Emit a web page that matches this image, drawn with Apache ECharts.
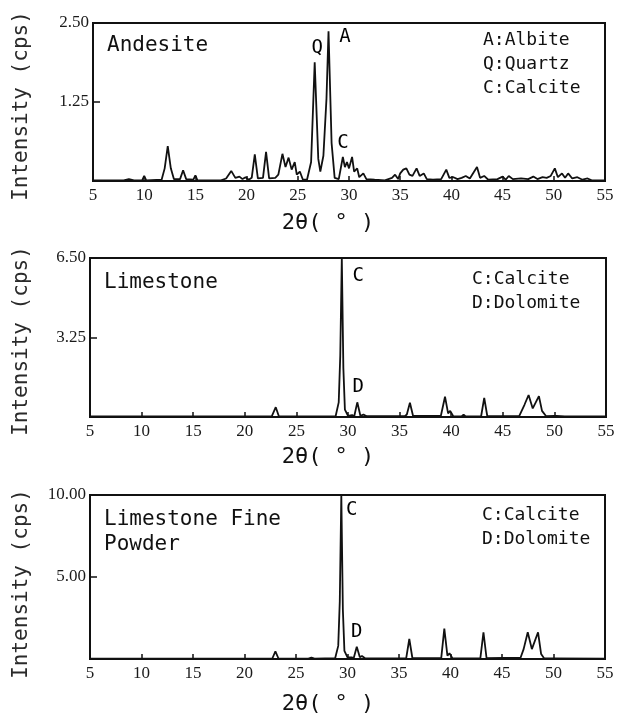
<!DOCTYPE html>
<html>
<head>
<meta charset="utf-8">
<script src="https://cdn.jsdelivr.net/npm/echarts@6/dist/echarts.min.js"></script>
<style>
html,body{margin:0;padding:0;background:#fff;}
#main{width:620px;height:717px;}
</style>
</head>
<body>
<div id="main"></div>
<script>
// ---------- data ----------
const xTicks = [5, 55, 5]; // min, max, interval of 2θ axes

const andesiteX = [5.0,8.0,8.5,9.0,9.8,10.0,10.2,11.7,12.0,12.3,12.6,12.9,13.5,13.8,14.1,14.8,15.0,15.2,17.5,18.0,18.5,18.9,19.3,19.6,19.9,20.2,20.5,20.8,21.1,21.6,21.9,22.2,22.8,23.1,23.5,23.8,24.1,24.4,24.7,24.9,25.2,25.5,25.9,26.3,26.65,27.0,27.2,27.5,27.8,28.0,28.3,28.6,29.0,29.4,29.6,29.8,30.0,30.3,30.5,30.8,31.0,31.4,31.7,32.5,33.5,34.2,34.5,34.8,35.0,35.3,35.6,35.9,36.2,36.6,36.9,37.3,37.6,38.2,39.0,39.5,39.8,40.2,40.6,41.0,41.4,41.8,42.5,42.8,43.2,43.6,44.5,45.0,45.3,45.6,46.0,46.8,47.5,48.0,48.4,48.9,49.3,49.7,50.1,50.4,50.8,51.1,51.4,51.8,52.3,52.8,53.3,53.7,55.0];
const andesiteY = [0.01,0.01,0.03,0.01,0.01,0.08,0.01,0.02,0.20,0.55,0.20,0.03,0.03,0.17,0.03,0.02,0.09,0.01,0.01,0.04,0.16,0.05,0.07,0.03,0.06,0.02,0.05,0.42,0.04,0.05,0.46,0.04,0.05,0.10,0.43,0.22,0.37,0.18,0.30,0.10,0.15,0.02,0.02,0.30,1.88,0.35,0.15,0.40,1.30,2.37,0.60,0.05,0.03,0.38,0.22,0.30,0.20,0.38,0.15,0.20,0.06,0.12,0.03,0.02,0.01,0.05,0.10,0.03,0.12,0.18,0.20,0.10,0.08,0.20,0.08,0.12,0.03,0.02,0.03,0.18,0.05,0.06,0.03,0.05,0.08,0.04,0.22,0.05,0.08,0.02,0.03,0.07,0.02,0.08,0.03,0.04,0.03,0.07,0.03,0.06,0.05,0.08,0.20,0.06,0.12,0.05,0.12,0.04,0.06,0.02,0.04,0.01,0.01];

const limestoneX = [5.0,22.6,23.0,23.3,26.0,28.8,29.1,29.25,29.4,29.55,29.7,30.0,30.4,30.6,30.9,31.2,31.5,31.8,35.5,35.7,36.0,36.3,39.0,39.4,39.7,39.9,40.2,41.0,41.2,41.4,42.9,43.2,43.5,46.6,47.1,47.5,47.9,48.5,48.8,49.2,50.0,50.2,51.0,55.0];
const limestoneY = [0.02,0.02,0.40,0.03,0.02,0.03,0.60,2.50,6.50,2.00,0.30,0.05,0.08,0.02,0.60,0.05,0.10,0.03,0.03,0.10,0.58,0.05,0.05,0.83,0.15,0.25,0.03,0.02,0.10,0.02,0.03,0.78,0.03,0.05,0.50,0.90,0.35,0.85,0.25,0.03,0.05,0.05,0.02,0.02];

const fineX = [5.0,22.7,23.0,23.3,26.2,26.5,26.8,28.8,29.1,29.25,29.4,29.55,29.7,30.0,30.4,30.6,30.9,31.2,31.4,31.7,35.7,36.0,36.3,39.1,39.4,39.7,39.9,40.2,42.9,43.2,43.5,46.8,47.1,47.5,47.9,48.5,48.8,49.1,50.0,55.0];
const fineY = [0.02,0.03,0.47,0.03,0.02,0.08,0.02,0.05,0.80,3.50,10.00,3.00,0.50,0.10,0.10,0.05,0.75,0.10,0.18,0.04,0.05,1.22,0.06,0.05,1.85,0.20,0.35,0.04,0.05,1.63,0.05,0.08,0.60,1.63,0.60,1.63,0.30,0.03,0.04,0.02];

const yMax = [2.5, 6.5, 10.0];
const sampleNames = ['Andesite', 'Limestone', 'Limestone Fine\nPowder'];
const legends = [['A:Albite','Q:Quartz','C:Calcite'], ['C:Calcite','D:Dolomite'], ['C:Calcite','D:Dolomite']];
const peakLabels = [
  [['Q',26.9,2.1],['A',29.6,2.28],['C',29.4,0.6]],
  [['C',31.0,5.76],['D',31.0,1.23]],
  [['C',30.4,9.1],['D',30.9,1.65]]
];
const yTitle = 'Intensity (cps)';
const xTitle = '2θ( ° )';

// ---------- layout ----------
const grids = [
  {left:93, right:15, top:23, height:158},
  {left:90, right:14, top:258, height:159},
  {left:90, right:15, top:495, height:164}
];
const xTitleY = [223, 457, 704];
const yTitleY = [106, 341, 584];
const nameY = [45, 282, 519];
const legendPos = [[483,40],[472,279],[482,515]];

const mono = 'DejaVu Sans Mono';
const ink = '#111';

const series = [];
const xAxes = [], yAxes = [];
const graphics = [];
const datasets = [[andesiteX,andesiteY],[limestoneX,limestoneY],[fineX,fineY]];

for (let i = 0; i < 3; i++) {
  xAxes.push({
    gridIndex:i, type:'value', min:xTicks[0], max:xTicks[1], interval:xTicks[2],
    axisLine:{show:true, lineStyle:{color:ink, width:2}},
    axisTick:{show:true, inside:true, length:5, lineStyle:{color:ink, width:1.5}},
    splitLine:{show:false},
    axisLabel:{margin:6, fontFamily:'Liberation Serif', fontSize:17, color:'#1a1a1a'}
  });
  yAxes.push({
    gridIndex:i, type:'value', min:0, max:yMax[i], interval:yMax[i]/2,
    axisLine:{show:true, lineStyle:{color:ink, width:2}},
    axisTick:{show:true, inside:true, length:7, lineStyle:{color:ink, width:1.5}},
    splitLine:{show:false},
    axisLabel:{margin:4, fontFamily:'Liberation Serif', fontSize:17, color:'#1a1a1a',
      formatter: v => v === 0 ? '' : v.toFixed(2)}
  });
  const [xs, ys] = datasets[i];
  series.push({
    type:'line', xAxisIndex:i, yAxisIndex:i, showSymbol:false, silent:true,
    data: xs.map((x, k) => [x, ys[k]]),
    lineStyle:{color:ink, width:1.8}, clip:true
  });
  series.push({
    type:'scatter', xAxisIndex:i, yAxisIndex:i, symbolSize:0, silent:true,
    itemStyle:{opacity:1},
    data: peakLabels[i].map(p => ({name:p[0], value:[p[1], p[2]]})),
    label:{show:true, position:'inside', formatter:'{b}', fontFamily:mono, fontSize:19,
      color:'#000', opacity:1, textBorderWidth:0}
  });
  graphics.push({
    type:'text', left:grids[i].left + 14, top:nameY[i] - 12,
    style:{text:sampleNames[i], font:'21px "DejaVu Sans Mono"', fill:ink, lineHeight:25}
  });
  legends[i].forEach((t, k) => {
    graphics.push({
      type:'text', x:legendPos[i][0], y:legendPos[i][1] + k*24,
      style:{text:t, font:'18px "DejaVu Sans Mono"', fill:ink, verticalAlign:'middle', align:'left'}
    });
  });
  graphics.push({
    type:'text', x:22, y:yTitleY[i], rotation:Math.PI/2,
    style:{text:yTitle, font:'21px "DejaVu Sans Mono"', fill:'#2a2a2a', align:'center', verticalAlign:'middle'}
  });
  graphics.push({
    type:'text', x:328, y:xTitleY[i],
    style:{text:xTitle, font:'22px "DejaVu Sans Mono"', fill:ink, align:'center', verticalAlign:'middle'}
  });
}

const chart = echarts.init(document.getElementById('main'), null, {renderer:'canvas'});
chart.setOption({
  animation:false,
  backgroundColor:'#fff',
  grid: grids.map(g => Object.assign({show:true, borderColor:ink, borderWidth:2, backgroundColor:'transparent'}, g)),
  xAxis:xAxes,
  yAxis:yAxes,
  series:series,
  graphic:graphics
});
</script>
</body>
</html>
